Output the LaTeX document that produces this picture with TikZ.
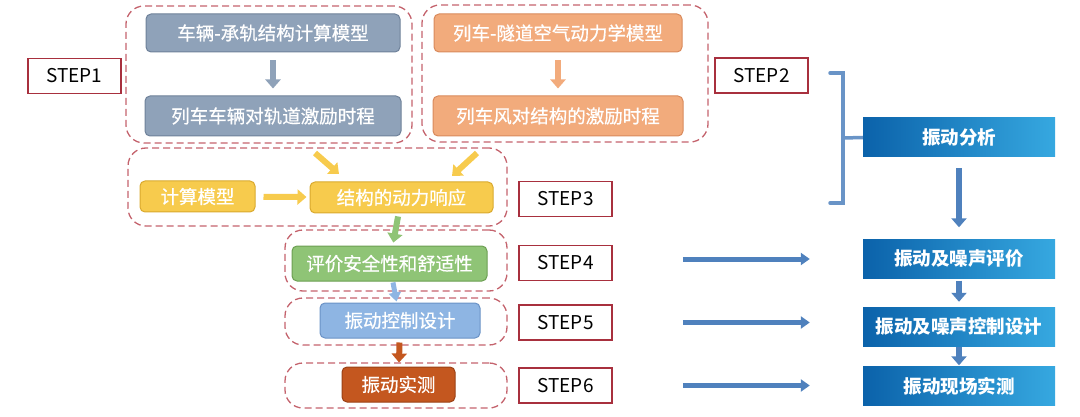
\documentclass[tikz,border=0pt]{standalone}
\usepackage{fontspec}
\setmainfont{Noto Sans CJK SC}
\newfontfamily\boxfont{Noto Sans CJK SC}[FakeBold=0.6]
\definecolor{railgray}{HTML}{8FA2B9}
\definecolor{railgraydk}{HTML}{6E8199}
\definecolor{airorange}{HTML}{F2AB7C}
\definecolor{airorangedk}{HTML}{D98A5C}
\definecolor{respyellow}{HTML}{F7CB4D}
\definecolor{respyellowdk}{HTML}{D9A92E}
\definecolor{evalgreen}{HTML}{8FC476}
\definecolor{evalgreendk}{HTML}{6C9F52}
\definecolor{ctrlblue}{HTML}{8EB5E3}
\definecolor{ctrlbluedk}{HTML}{6A92C6}
\definecolor{measbrown}{HTML}{C4571F}
\definecolor{measbrowndk}{HTML}{9A4115}
\definecolor{grpred}{HTML}{C4636D}
\definecolor{stepred}{HTML}{A8303E}
\definecolor{deepblue}{HTML}{0B62AA}
\definecolor{skyblue}{HTML}{36A8E0}
\definecolor{steel}{HTML}{4F81BD}
\usetikzlibrary{arrows.meta,positioning,calc}

\begin{document}
\begin{tikzpicture}[x=1pt,y=-1pt,
    every node/.style={font=\fontsize{18}{20}\selectfont},
    box/.style={rectangle,rounded corners=5pt,line width=1pt,text=white,inner sep=0pt,
        font=\boxfont\fontsize{18.5}{20}\selectfont},
    grp/.style={rectangle,rounded corners=18pt,draw=grpred,line width=1.3pt,dash pattern=on 7pt off 4pt},
    stepbox/.style={rectangle,draw=stepred,line width=1.8pt,fill=white,text=black,
        minimum width=93pt,minimum height=35pt,font=\fontsize{19}{20}\selectfont},
    bluebox/.style={rectangle,left color=deepblue,right color=skyblue,text=white,
        minimum width=192pt,minimum height=39pt,font=\bfseries\fontsize{18.5}{20}\selectfont},
    blk/.style={line width=6pt,-{Triangle[width=15pt,length=9pt]}},
    thinblk/.style={line width=5pt,-{Triangle[width=12pt,length=9pt]}}]
    \useasboundingbox (0,0) rectangle (1080,417);
    \node[grp,minimum width=286pt,minimum height=137pt] (g1) at (269,74.5) {};
    \node[grp,minimum width=286pt,minimum height=137pt] (g2) at (565,73.5) {};
    \node[grp,minimum width=379pt,minimum height=78pt] (g3) at (317.5,187) {};
    \node[grp,minimum width=222pt,minimum height=61pt] (g4) at (396,260.5) {};
    \node[grp,minimum width=222pt,minimum height=47pt] (g5) at (396,321.5) {};
    \node[grp,minimum width=222pt,minimum height=45pt] (g6) at (396,385.5) {};
    \node[box,fill=railgray,draw=railgraydk,minimum width=254pt,minimum height=38pt] (trainmod) at (273,33) {车辆-承轨结构计算模型};
    \node[box,fill=railgray,draw=railgraydk,minimum width=256pt,minimum height=40pt] (railexc) at (273,116) {列车车辆对轨道激励时程};
    \node[box,fill=airorange,draw=airorangedk,minimum width=248pt,minimum height=38pt] (airmod) at (558,33) {列车-隧道空气动力学模型};
    \node[box,fill=airorange,draw=airorangedk,minimum width=250pt,minimum height=40pt] (windexc) at (558,116) {列车风对结构的激励时程};
    \node[box,fill=respyellow,draw=respyellowdk,minimum width=115pt,minimum height=31pt] (calc) at (197.5,196.5) {计算模型};
    \node[box,fill=respyellow,draw=respyellowdk,minimum width=183pt,minimum height=31pt] (resp) at (401.5,197.5) {结构的动力响应};
    \node[box,fill=evalgreen,draw=evalgreendk,minimum width=195pt,minimum height=35pt] (eval) at (389.5,263.5) {评价安全性和舒适性};
    \node[box,fill=ctrlblue,draw=ctrlbluedk,minimum width=160pt,minimum height=35pt] (ctrl) at (400,320.5) {振动控制设计};
    \node[box,fill=measbrown,draw=measbrowndk,minimum width=113pt,minimum height=35pt] (meas) at (398.5,384.5) {振动实测};
    \node[stepbox] (s1) at (74.5,76) {STEP1};
    \node[stepbox] (s2) at (761.5,75.5) {STEP2};
    \node[stepbox] (s3) at (565.5,199) {STEP3};
    \node[stepbox] (s4) at (565.5,263) {STEP4};
    \node[stepbox] (s5) at (565.5,322.5) {STEP5};
    \node[stepbox] (s6) at (565.5,385.5) {STEP6};
    \node[bluebox] (an) at (959,137.5) {振动分析};
    \node[bluebox] (ne) at (959,259) {振动及噪声评价};
    \node[bluebox] (nc) at (959,326.5) {振动及噪声控制设计};
    \node[bluebox] (nm) at (959,386) {振动现场实测};
    \coordinate (dl0) at (315,153);
    \coordinate (dl1) at (339,174);
    \coordinate (dr0) at (477,153);
    \coordinate (dr1) at (452,176);
    \coordinate (brtop) at (830,73);
    \coordinate (brbot) at (830,203);
    \draw[blk,railgray,shorten <=8pt,shorten >=7pt] (trainmod) -- (railexc);
    \draw[blk,airorange,shorten <=8pt,shorten >=7pt] (airmod) -- (windexc);
    \draw[blk,respyellow] (dl0) -- (dl1);
    \draw[blk,respyellow] (dr0) -- (dr1);
    \draw[blk,respyellow,shorten <=8pt,shorten >=3pt] (calc) -- (resp);
    \draw[blk,evalgreen,shorten <=3pt,shorten >=3pt] (resp) -- (eval);
    \draw[thinblk,ctrlblue,shorten <=1pt,shorten >=1pt] (eval) -- (ctrl);
    \draw[blk,measbrown,shorten <=4pt,shorten >=4pt] (ctrl) -- (meas);
    \draw[line width=3.5pt,steel!85,line cap=round] (brtop) -- ++(13,0) |- (brbot);
    \draw[line width=3.5pt,steel!85] ($(brtop)!0.5!(brbot)+(13,0)$) -- (an.west);
    \draw[blk,steel,shorten <=11pt,shorten >=12pt] (an) -- (ne);
    \draw[blk,steel,shorten <=2pt,shorten >=5pt] (ne) -- (nc);
    \draw[blk,steel,shorten <=1pt,shorten >=1pt] (nc) -- (nm);
    \draw[thinblk,steel,shorten <=70pt,shorten >=53pt] (ne.west -| s4.east) -- (ne.west);
    \draw[thinblk,steel,shorten <=70pt,shorten >=53pt] (s5.east) -- (s5.east -| nc.west);
    \draw[thinblk,steel,shorten <=70pt,shorten >=53pt] (s6.east) -- (s6.east -| nm.west);
\end{tikzpicture}
\end{document}
